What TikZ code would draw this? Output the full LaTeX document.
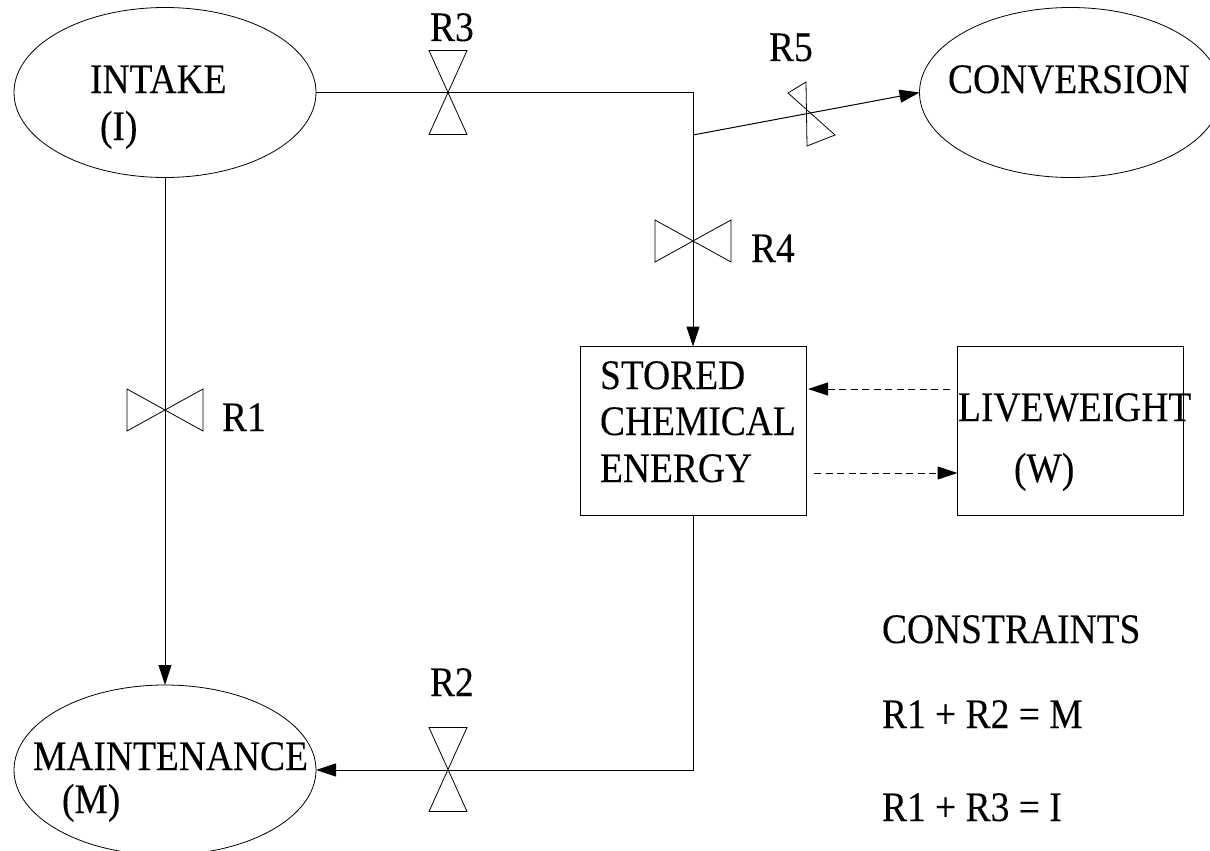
\documentclass[tikz,border=0pt]{standalone}
\usepackage{fontspec}
\setmainfont{Liberation Serif}[FakeStretch=0.893,FakeBold=0.15]
\usetikzlibrary{shapes.geometric,arrows.meta}
\tikzset{
  lbl/.style={anchor=base west,inner sep=0pt,outer sep=0pt,font=\fontsize{42}{48}\selectfont},
  bubble/.style={draw,ellipse,line width=0.8pt,inner sep=0pt,outer sep=0pt,minimum width=302pt,minimum height=170pt},
  panel/.style={draw,rectangle,line width=1pt,inner sep=0pt,outer sep=0pt,minimum width=226pt,minimum height=169pt},
  flow/.style={line width=1pt,-{Triangle[length=20pt,width=13pt]}},
  plain/.style={line width=1pt},
  dashflow/.style={line width=1pt,dash pattern=on 7pt off 4.5pt,-{Triangle[length=20pt,width=13pt]}},
  valveline/.style={line width=0.8pt},
  vvalve/.pic={\draw[valveline] (-19,-42) -- (19,-42) -- (-19,42) -- (19,42) -- cycle;},
  hvalve/.pic={\draw[valveline] (-38,-21) -- (-38,21) -- (38,-21) -- (38,21) -- cycle;},
  skewvalve/.pic={\draw[valveline] (-23,-21) -- (-5,-32) -- (-4,32) -- (24,21) -- cycle;}
}
\begin{document}
\begin{tikzpicture}[x=1pt,y=-1pt]
\useasboundingbox (0,0) rectangle (1210,851);
\clip (0,0) rectangle (1210,851);
% shapes
\node[bubble] (intake) at (165,92.5) {};
\node[bubble] (conv) at (1070.5,92.5) {};
\node[bubble] (maint) at (165,770) {};
\node[panel] (stored) at (693,431) {};
\node[panel] (live) at (1070.5,431) {};
% junctions
\coordinate (j1) at (stored.north |- intake.east);
\coordinate (j2) at (693,135);
\coordinate (j3) at (stored.south |- maint.east);
% connectors
\draw[flow] (intake.east) -- (j1) -- (stored.north);
\draw[flow] (j2) -- (conv.west);
\draw[flow] (intake.south) -- (maint.north);
\draw[flow] (stored.south) -- (j3) -- (maint.east);
\draw[dashflow] ([xshift=-8pt,yshift=42pt]live.west) -- ([xshift=2pt,yshift=42pt]stored.east);
\draw[dashflow] ([xshift=8pt,yshift=-42pt]stored.east) -- ([yshift=-42pt]live.west);
% valves
\pic at (448,92.5) {vvalve};
\pic at (448,769.5) {vvalve};
\pic at (165,410) {hvalve};
\pic at (693,241) {hvalve};
\pic at (811,114) {skewvalve};
% labels
\node[lbl] (tintake) at (90,93) {INTAKE};
\node[lbl] (tintakei) at (100,140) {(I)};
\node[lbl] (tconv) at (948,93) {CONVERSION};
\node[lbl] (tmaint) at (33,770) {MAINTENANCE};
\node[lbl] (tmaintm) at (62,813) {(M)};
\node[lbl] (ts1) at (600,389) {STORED};
\node[lbl] (ts2) at (600,435) {CHEMICAL};
\node[lbl] (ts3) at (600,482) {ENERGY};
\node[lbl] (tl1) at (958,421) {LIVEWEIGHT};
\node[lbl] (tl2) at (1014,482) {(W)};
\node[lbl] (r1) at (222,431) {R1};
\node[lbl] (r2) at (430,696) {R2};
\node[lbl] (r3) at (430,41) {R3};
\node[lbl] (r4) at (751,262) {R4};
\node[lbl] (r5) at (769,61) {R5};
\node[lbl] (c0) at (882,643) {CONSTRAINTS};
\node[lbl] (c1) at (882,728) {R1 + R2 = M};
\node[lbl] (c2) at (882,821) {R1 + R3 = I};
\end{tikzpicture}
\end{document}
